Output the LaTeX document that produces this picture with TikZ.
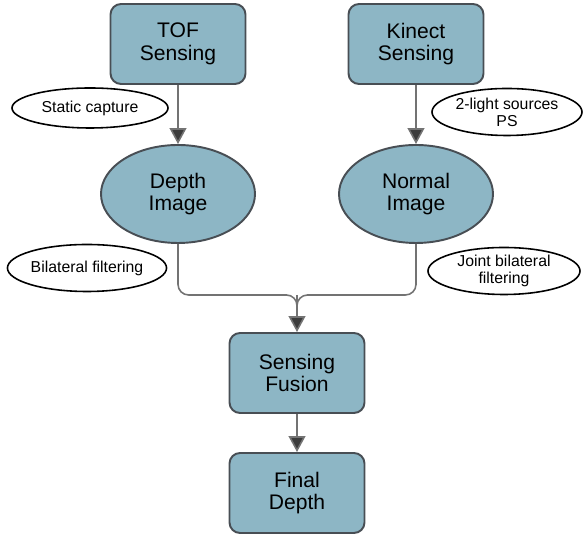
\documentclass[tikz,border=0pt]{standalone}
\usepackage{fontspec}
\setmainfont{Liberation Sans}
\definecolor{boxblue}{RGB}{141,182,197}
\definecolor{boxedge}{RGB}{72,78,84}
\definecolor{linegray}{RGB}{115,115,115}
\definecolor{tipgray}{RGB}{60,60,60}
\usetikzlibrary{arrows.meta,shapes.geometric}

\begin{document}
\begin{tikzpicture}[
    caja/.style={draw=boxedge, line width=1.1pt, fill=boxblue, rounded corners=6pt,
      minimum width=2.7cm, minimum height=1.6cm, align=center, font=\fontsize{12}{12.8}\selectfont},
    imagen/.style={draw=boxedge, line width=1.1pt, fill=boxblue, ellipse,
      minimum width=3.08cm, minimum height=1.96cm, inner sep=0pt, align=center, font=\fontsize{12}{12.8}\selectfont},
    etiqueta/.style={draw=black, line width=0.9pt, fill=white, ellipse, inner sep=0pt,
      minimum height=0.94cm, align=center, font=\fontsize{9}{9.6}\selectfont},
    flecha/.style={draw=linegray, line width=0.9pt, -{Triangle[length=9pt,width=9.5pt,fill=tipgray]}},
    rama/.style={draw=linegray, line width=0.9pt, rounded corners=6pt}]
    \useasboundingbox (0,0) rectangle (11.72,10.72);

    % Sensores
    \node[caja] (tof) at (3.56,9.84) {TOF\\Sensing};
    \node[caja] (kinect) at (8.32,9.84) {Kinect\\Sensing};

    % Imagenes intermedias
    \node[imagen] (depth) at (3.56,6.84) {Depth\\Image};
    \node[imagen] (normal) at (8.32,6.84) {Normal\\Image};

    % Fusion y salida
    \node[caja] (fusion) at (5.94,3.26) {Sensing\\Fusion};
    \node[caja] (final) at (5.94,0.86) {Final\\Depth};

    % Etiquetas de proceso
    \node[etiqueta, minimum width=3.12cm, minimum height=0.8cm] (static) at (1.80,8.56) {Static capture};
    \node[etiqueta, minimum width=3.0cm] (twolight) at (10.14,8.48) {2-light sources\\PS};
    \node[etiqueta, minimum width=3.14cm] (bilateral) at (1.74,5.36) {Bilateral filtering};
    \node[etiqueta, minimum width=3.04cm] (joint) at (10.08,5.30) {Joint bilateral\\filtering};

    % Conexiones
    \coordinate (merge) at (5.94,4.82);
    \draw[flecha] (tof) -- (depth);
    \draw[flecha] (kinect) -- (normal);
    \draw[rama] (depth.south) |- (merge) -- ++(0,-0.3);
    \draw[rama] (normal.south) |- (merge) -- ++(0,-0.3);
    \draw[flecha] (merge) -- (fusion);
    \draw[flecha] (fusion) -- (final);
\end{tikzpicture}
\end{document}
